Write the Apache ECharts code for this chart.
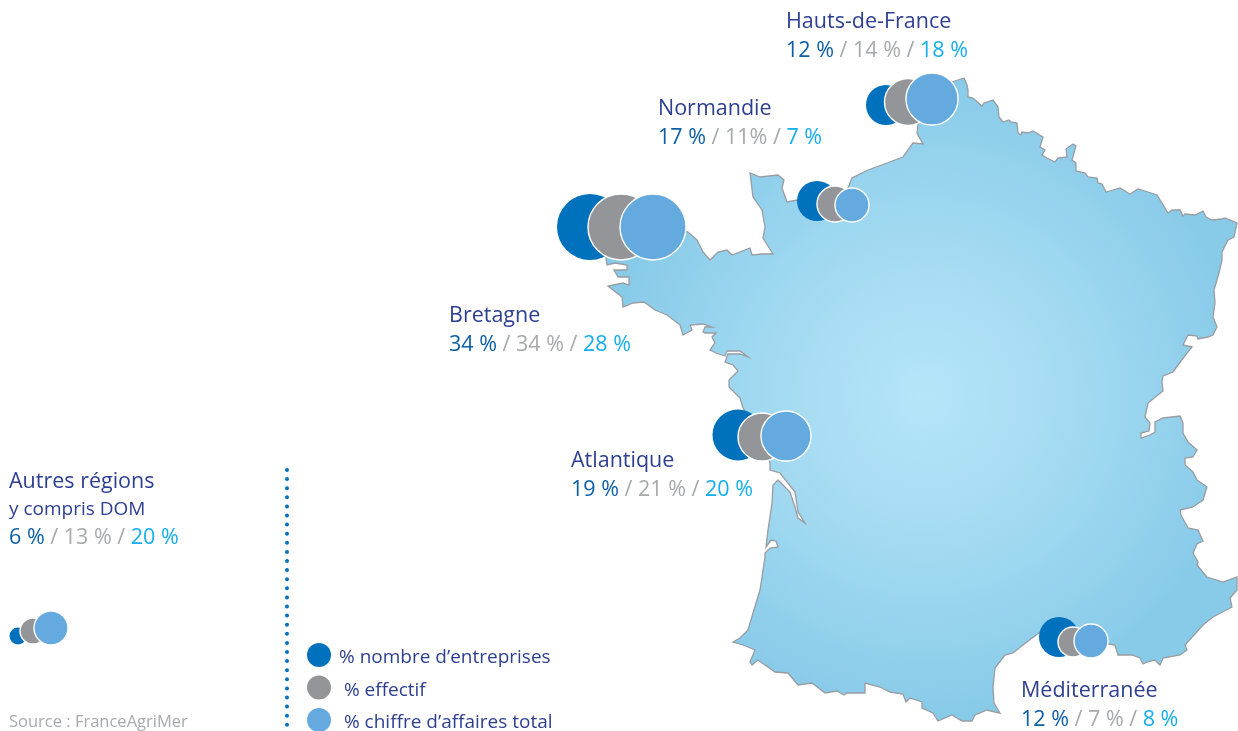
<!DOCTYPE html>
<html>
<head>
<meta charset="utf-8">
<style>html,body{margin:0;padding:0;background:#fff}#main{width:1238px;height:731px}</style>
<script src="https://cdn.jsdelivr.net/npm/echarts@6/dist/echarts.min.js"></script>
</head>
<body>
<div id="main"></div>
<script>
var regions = ['Hauts-de-France', 'Normandie', 'Bretagne', 'Atlantique', 'Méditerranée', 'Autres régions'];
var entreprises = [12, 17, 34, 19, 12, 6];
var effectif = [14, 11, 34, 21, 7, 13];
var chiffreAffaires = [18, 7, 28, 20, 8, 20];
var seriesNames = ['% nombre d’entreprises', '% effectif', '% chiffre d’affaires total'];

// contour de la France, en unites de carte
var contour = [[952,82],[964,78],[967,85],[968,90],[968,97],[973,98],[982,106],[984,103],[993,100],[998,107],[999,117],[1003,122],[1009,120],[1011,122],[1017,123],[1018,133],[1021,135],[1022,132],[1028,133],[1033,131],[1043,137],[1040,147],[1045,150],[1042,155],[1047,158],[1055,162],[1058,158],[1067,157],[1066,149],[1073,144],[1076,146],[1072,160],[1076,163],[1076,171],[1085,173],[1088,177],[1097,178],[1098,183],[1102,184],[1106,192],[1113,190],[1120,188],[1130,194],[1138,189],[1148,192],[1157,195],[1162,203],[1168,213],[1172,210],[1180,210],[1183,216],[1185,214],[1195,215],[1203,211],[1206,217],[1212,220],[1222,219],[1225,218],[1237,223],[1234,237],[1228,240],[1222,252],[1222,260],[1219,273],[1214,290],[1215,303],[1213,317],[1217,327],[1213,335],[1208,337],[1198,339],[1197,336],[1188,335],[1183,345],[1192,347],[1187,353],[1173,372],[1163,376],[1162,382],[1163,391],[1148,403],[1145,417],[1150,423],[1149,431],[1141,433],[1141,438],[1150,435],[1155,432],[1155,422],[1163,418],[1180,416],[1183,423],[1183,433],[1188,442],[1197,450],[1193,457],[1185,458],[1185,465],[1193,472],[1197,480],[1207,487],[1203,500],[1193,507],[1180,510],[1181,515],[1188,528],[1198,530],[1203,541],[1197,544],[1193,553],[1198,562],[1197,565],[1207,577],[1223,582],[1237,577],[1237,590],[1230,598],[1232,607],[1213,617],[1203,625],[1185,645],[1187,650],[1180,655],[1163,658],[1160,665],[1155,660],[1147,662],[1143,664],[1140,658],[1132,655],[1127,655],[1118,655],[1115,645],[1108,644],[1085,640],[1060,628],[1040,632],[1023,645],[1013,653],[1005,655],[995,668],[993,687],[994,703],[1000,713],[995,712],[987,710],[975,715],[972,721],[962,721],[952,715],[938,721],[933,713],[922,708],[922,702],[910,698],[906,702],[903,694],[890,692],[880,687],[865,683],[865,693],[847,693],[844,695],[837,691],[825,693],[812,683],[798,685],[788,673],[775,672],[758,660],[752,665],[750,662],[755,650],[743,645],[733,642],[740,638],[748,630],[753,613],[760,590],[765,557],[765,553],[770,548],[778,547],[776,541],[771,540],[766,547],[768,530],[772,503],[773,485],[778,480],[790,492],[795,507],[798,518],[805,523],[798,512],[795,492],[780,473],[770,470],[770,463],[765,445],[755,425],[743,408],[740,398],[729,387],[729,380],[738,371],[733,365],[725,362],[728,354],[740,354],[748,357],[740,351],[727,351],[725,356],[716,353],[710,350],[715,343],[712,337],[716,333],[705,333],[703,332],[705,327],[712,327],[703,324],[690,325],[692,330],[683,335],[680,325],[667,315],[655,310],[644,302],[633,303],[623,307],[622,297],[608,286],[623,283],[629,285],[629,277],[618,277],[614,270],[627,270],[627,265],[615,263],[607,265],[606,258],[620,235],[660,225],[688,232],[697,240],[703,252],[710,260],[718,252],[727,250],[732,255],[750,248],[752,255],[762,254],[773,254],[763,238],[765,227],[762,210],[753,197],[750,173],[760,177],[778,175],[784,180],[782,188],[787,202],[797,200],[815,205],[835,205],[848,188],[852,178],[868,170],[887,163],[903,157],[913,143],[923,144],[917,133],[918,125],[920,100],[935,85]];

// emplacement et diametre de chaque bulle, par region : [entreprises, effectif, chiffre d'affaires]
var bubblePlaces = [
	[[886,105],[908,102],[932,99]],
	[[817,201],[835,204],[852,205]],
	[[590,227],[621,227],[653,227]],
	[[738,435],[762,437],[786,436]],
	[[1059,637],[1073,642],[1091,641]],
	[[18,636],[33,631],[51,628]]
];
var bubbleSizes = [
	[40,47,52],
	[40,36,34],
	[66,66,66],
	[51,48,50],
	[40,30,34],
	[17,26,34]
];
// position des textes : [x, y titre, y pourcentages]
var textPlaces = [[786,22,51],[658,109,138],[449,316,345],[571,461,490],[1021,691,720],[9,482,538]];

var fontName = '"Open Sans", sans-serif';
var colors = ['#0071bc', '#939598', '#65aade'];

echarts.registerMap('france', {
	type: 'FeatureCollection',
	features: [{
		type: 'Feature',
		properties: {name: 'France'},
		geometry: {type: 'Polygon', coordinates: [contour]}
	}]
});

function bubbleSeries(name, values, k) {
	return {
		name: name,
		type: 'scatter',
		coordinateSystem: 'geo',
		z: 3 + k,
		silent: true,
		symbol: 'circle',
		symbolSize: function (val, params) {
			return bubbleSizes[params.dataIndex][k];
		},
		itemStyle: {color: colors[k], borderColor: '#fff', borderWidth: k == 0 ? 0 : 1.4, opacity: 1},
		data: values.map(function (v, i) {
			return {name: regions[i], value: [bubblePlaces[i][k][0], bubblePlaces[i][k][1], v]};
		})
	};
}

function pct(v) {
	return v == 11 ? v + '%' : v + ' %';
}

var richStyle = {
	d: {fill: '#0b5ea8', fontSize: 21.5, fontFamily: fontName},
	g: {fill: '#a7a9ac', fontSize: 21.5, fontFamily: fontName},
	c: {fill: '#14aeee', fontSize: 21.5, fontFamily: fontName}
};

var texts = [];
regions.forEach(function (r, i) {
	var p = textPlaces[i];
	texts.push({
		type: 'text', x: p[0], y: p[1],
		style: {text: r, fill: '#2e3f92', fontSize: 21.5, fontFamily: fontName, verticalAlign: 'middle'}
	});
	texts.push({
		type: 'text', x: p[0], y: p[2],
		style: {
			text: '{d|' + pct(entreprises[i]) + '}{g| / ' + pct(effectif[i]) + ' / }{c|' + pct(chiffreAffaires[i]) + '}',
			rich: richStyle,
			verticalAlign: 'middle'
		}
	});
});
texts.push({
	type: 'text', x: 9, y: 510,
	style: {text: 'y compris DOM', fill: '#2e3f92', fontSize: 19, fontFamily: fontName, verticalAlign: 'middle'}
});
texts.push({
	type: 'text', x: 9, y: 722,
	style: {text: 'Source : FranceAgriMer', fill: '#a7a9ac', fontSize: 16.5, fontFamily: fontName, verticalAlign: 'middle'}
});
texts.push({
	type: 'line',
	shape: {x1: 287, y1: 470, x2: 287, y2: 731},
	style: {stroke: '#0071bc', lineWidth: 4, lineCap: 'round', lineDash: [0, 9.1]}
});

var myChart = echarts.init(document.getElementById('main'));

var option = {
	animation: false,
	legend: {
		orient: 'vertical',
		left: 307,
		top: 643,
		height: 120,
		icon: 'circle',
		itemWidth: 24,
		itemHeight: 24,
		itemGap: 8,
		padding: 0,
		selectedMode: false,
		data: seriesNames,
		formatter: function (name) {
			return '{t|' + (name == seriesNames[0] ? name : ' ' + name) + '}';
		},
		itemStyle: {borderWidth: 0},
		textStyle: {
			color: '#2e3f92', fontSize: 19, fontFamily: fontName,
			rich: {t: {color: '#2e3f92', fontSize: 19, fontFamily: fontName, padding: [6, 0, 0, 3]}}
		}
	},
	geo: {
		map: 'france',
		silent: true,
		roam: false,
		left: 0, top: 0, right: 0, bottom: 0,
		projection: {
			project: function (p) { return p; },
			unproject: function (p) { return p; }
		},
		boundingCoords: [[0, 0], [1238, 731]],
		label: {show: false},
		itemStyle: {
			areaColor: {
				type: 'radial', x: 0.505, y: 0.495, r: 0.5,
				colorStops: [
					{offset: 0, color: '#b5e5f9'},
					{offset: 0.45, color: '#a5dbf2'},
					{offset: 1, color: '#88cbe9'}
				]
			},
			borderColor: '#999ca0',
			borderWidth: 1.3
		},
		emphasis: {disabled: true}
	},
	graphic: {elements: texts},
	series: [
		bubbleSeries(seriesNames[0], entreprises, 0),
		bubbleSeries(seriesNames[1], effectif, 1),
		bubbleSeries(seriesNames[2], chiffreAffaires, 2)
	]
};
myChart.setOption(option);
</script>
</body>
</html>
